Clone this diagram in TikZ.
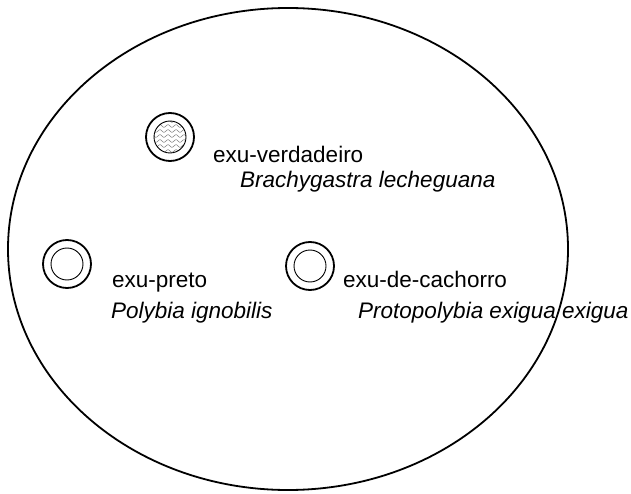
\documentclass[tikz,border=0pt]{standalone}
\usepackage{fontspec}
\setmainfont{Liberation Sans}
\begin{document}
\begin{tikzpicture}[x=1pt, y=-1pt,
    nest/.style = {circle, draw, line width=1.8pt, minimum size=48pt, inner sep=0pt},
    comb/.style = {circle, draw, line width=0.9pt, minimum size=32pt, inner sep=0pt},
    vulgar/.style = {anchor=base west, inner sep=0pt, font=\fontsize{22.5}{27}\selectfont},
    species/.style = {vulgar, font=\fontsize{22.5}{27}\selectfont\itshape}]
    \useasboundingbox (0, 0) rectangle (631, 494);

    \draw [line width=1.8pt] (288, 249) ellipse [x radius=280pt, y radius=241pt];

    \node[nest] (n1) at (170, 137) {};
    \node[nest] (n2) at (67, 264)  {};
    \node[nest] (n3) at (310, 266) {};

    \begin{scope}
        \clip (170, 137) circle [radius=16pt];
        \foreach \r in {-16, -11, ..., 19}
            \draw [gray, line width=0.5pt] plot[domain=-18:18, samples=50, smooth]
                ({170 + \x}, {137 + \r + 1.3*sin(\x*45)});
    \end{scope}
    \node[comb] (c1) at (n1) {};
    \node[comb] (c2) at (n2) {};
    \node[comb] (c3) at (n3) {};

    \node[vulgar] (l1) at (213, 163) {exu-verdadeiro};
    \node[species] (s1) at (240, 188) {Brachygastra lecheguana};
    \node[vulgar] (l2) at (112, 287) {exu-preto};
    \node[species] (s2) at (111, 318) {Polybia ignobilis};
    \node[vulgar] (l3) at (343, 287) {exu-de-cachorro};
    \node[species] (s3) at (358, 318) {Protopolybia exigua exigua};
\end{tikzpicture}
\end{document}
